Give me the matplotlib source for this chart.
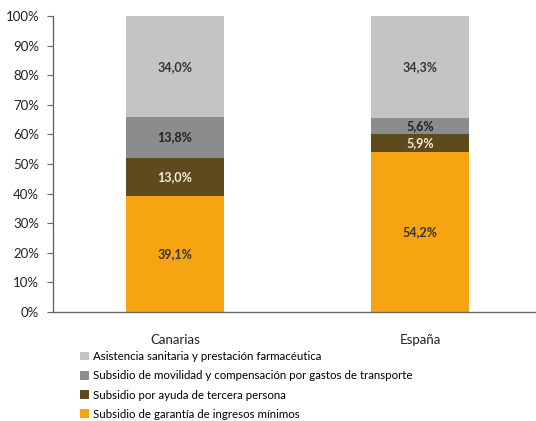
import matplotlib
matplotlib.use("Agg")
import matplotlib.pyplot as plt
from matplotlib.patches import Patch

plt.rcParams['font.family'] = ['Lato', 'DejaVu Sans']

categories = ["Canarias", "España"]
series_names = [
    "Subsidio de garantía de ingresos mínimos",
    "Subsidio por ayuda de tercera persona",
    "Subsidio de movilidad y compensación por gastos de transporte",
    "Asistencia sanitaria y prestación farmacéutica",
]
garantia = [39.1, 54.2]
tercera = [13.0, 5.9]
movilidad = [13.8, 5.6]
asistencia = [34.0, 34.3]
series_values = [garantia, tercera, movilidad, asistencia]
colors = ["#F6A412", "#5E4A1C", "#8C8C8C", "#C4C4C4"]
label_colors = ["#333333", "#F2EEDC", "#222222", "#333333"]
yticks = [0, 10, 20, 30, 40, 50, 60, 70, 80, 90, 100]

fig = plt.figure(figsize=(5.36, 4.21), dpi=100)
ax = fig.add_axes([53/536, 1 - 312/421, (536 - 53)/536, (312 - 16)/421])

x = list(range(len(categories)))
bottoms = [0.0] * len(categories)
for vals, col, lc in zip(series_values, colors, label_colors):
    ax.bar(x, vals, width=0.4, bottom=bottoms, color=col, edgecolor='none')
    for i, v in enumerate(vals):
        ax.text(x[i], bottoms[i] + v / 2, f"{v:.1f}%".replace('.', ','),
                ha='center', va='center', fontsize=9, color=lc, fontweight='bold')
    bottoms = [b + v for b, v in zip(bottoms, vals)]

ax.set_xlim((53 - 175) / 245, (536 - 175) / 245)
ax.set_ylim(0, 100)
ax.set_yticks(yticks)
ax.set_yticklabels([f"{t}%" for t in yticks], fontsize=9.5, color='#222222')
ax.set_xticks(x)
ax.set_xticklabels(categories, fontsize=9.5, color='#222222')
ax.tick_params(axis='x', length=0, pad=16)
ax.tick_params(axis='y', length=4, width=0.8, color='#666666', pad=6)
for s in ['top', 'right']:
    ax.spines[s].set_visible(False)
for s in ['left', 'bottom']:
    ax.spines[s].set_color('#666666')
    ax.spines[s].set_linewidth(1.0)

handles = [Patch(facecolor=colors[i], edgecolor='none', label=series_names[i]) for i in [3, 2, 1, 0]]
fig.legend(handles=handles, loc='upper left', bbox_to_anchor=(80/536, 1 - 351/421),
           frameon=False, fontsize=8.3, handlelength=0.8, handleheight=0.8,
           handletextpad=0.3, labelspacing=0.72, borderaxespad=0, borderpad=0)

fig.savefig("out.png", dpi=100)
